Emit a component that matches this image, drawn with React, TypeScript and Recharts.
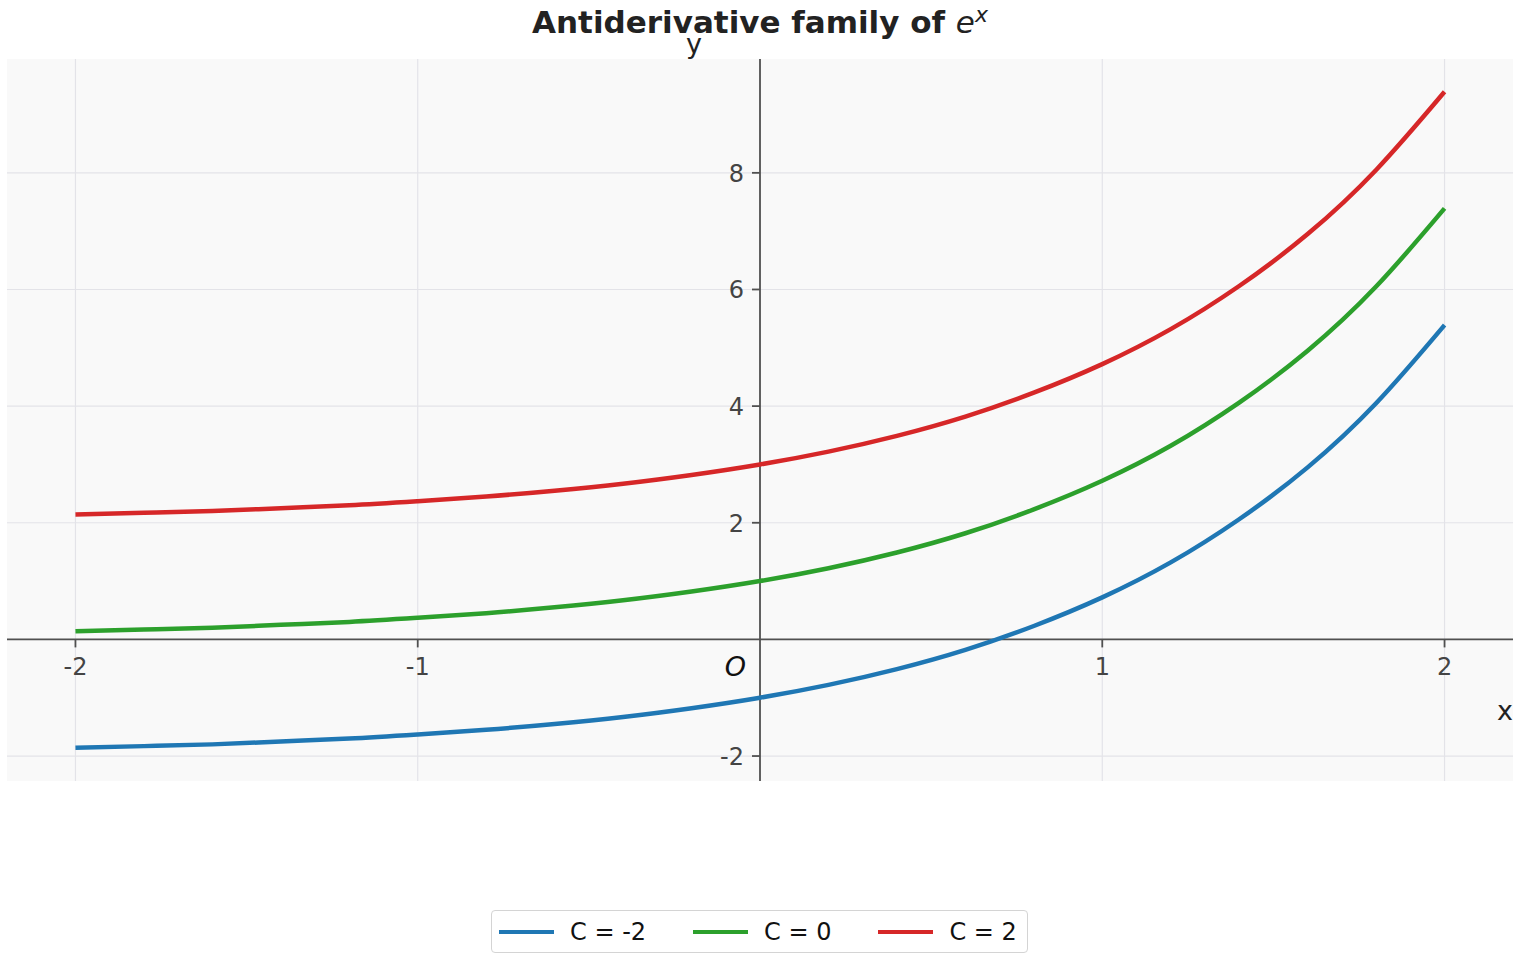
import { LineChart, Line, XAxis, YAxis, ReferenceLine, ReferenceDot, ReferenceArea } from "recharts"

// x positions and the three curves (y = e^x + C)
const xs = [-2, -1.8, -1.6, -1.4, -1.2, -1, -0.8, -0.6, -0.4, -0.2, 0, 0.2, 0.4, 0.6, 0.8, 1, 1.2, 1.4, 1.6, 1.8, 2]
const cMinus2 = [-1.86, -1.83, -1.8, -1.75, -1.7, -1.63, -1.55, -1.45, -1.33, -1.18, -1.0, -0.78, -0.51, -0.18, 0.23, 0.72, 1.32, 2.06, 2.95, 4.05, 5.39]
const c0 = [0.14, 0.17, 0.2, 0.25, 0.3, 0.37, 0.45, 0.55, 0.67, 0.82, 1.0, 1.22, 1.49, 1.82, 2.23, 2.72, 3.32, 4.06, 4.95, 6.05, 7.39]
const c2 = [2.14, 2.17, 2.2, 2.25, 2.3, 2.37, 2.45, 2.55, 2.67, 2.82, 3.0, 3.22, 3.49, 3.82, 4.23, 4.72, 5.32, 6.06, 6.95, 8.05, 9.39]

const xTicks = [-2, -1, 1, 2]
const yTicks = [-2, 2, 4, 6, 8]
const gridX = [-2, -1, 1, 2]
const gridY = [-2, 2, 4, 6, 8]

const xDomain: [number, number] = [-2.2, 2.2]
const yDomain: [number, number] = [-2.428, 9.952]

const series = [
  { key: "a", name: "C = -2", color: "#1f77b4" },
  { key: "b", name: "C = 0", color: "#2ca02c" },
  { key: "c", name: "C = 2", color: "#d62728" },
]

const data = xs.map((x, i) => ({ x, a: cMinus2[i], b: c0[i], c: c2[i] }))

const FONT = "'DejaVu Sans', sans-serif"
const SPINE = "#505050"
const TICK_TEXT = "#444444"

const xTick = (label: string) => (p: any) => (
  <g>
    <line x1={p.cx} y1={p.cy} x2={p.cx} y2={p.cy + 8} stroke={SPINE} strokeWidth={1.8} />
    <text x={p.cx} y={p.cy + 36} textAnchor="middle" fontSize={24} fill={TICK_TEXT} fontFamily={FONT}>
      {label}
    </text>
  </g>
)

const yTick = (label: string) => (p: any) => (
  <g>
    <line x1={p.cx} y1={p.cy} x2={p.cx - 8} y2={p.cy} stroke={SPINE} strokeWidth={1.8} />
    <text x={p.cx - 16} y={p.cy + 9} textAnchor="end" fontSize={24} fill={TICK_TEXT} fontFamily={FONT}>
      {label}
    </text>
  </g>
)

export default function App() {
  return (
    <div style={{ position: "absolute", left: 0, top: 0, width: 1520, height: 960, background: "#fff", fontFamily: FONT }}>
      <div
        style={{
          position: "absolute",
          top: 3,
          left: 0,
          width: 1520,
          textAlign: "center",
          fontSize: 31,
          fontWeight: "bold",
          color: "#222",
          lineHeight: "38px",
        }}
      >
        Antiderivative family of{" "}
        <span style={{ fontWeight: "normal", fontStyle: "italic" }}>
          e<sup style={{ fontSize: 22, verticalAlign: "super", lineHeight: 0 }}>x</sup>
        </span>
      </div>

      <LineChart width={1520} height={960} data={data} margin={{ top: 59, right: 7, bottom: 179, left: 7 }}>
        <XAxis type="number" dataKey="x" domain={xDomain} allowDataOverflow hide />
        <YAxis type="number" domain={yDomain} allowDataOverflow hide />
        <ReferenceArea x1={xDomain[0]} x2={xDomain[1]} y1={yDomain[0]} y2={yDomain[1]} fill="#f9f9f9" fillOpacity={1} stroke="none" />
        {gridX.map((t) => (
          <ReferenceLine key={"gx" + t} x={t} stroke="#e3e3e8" strokeWidth={1.2} />
        ))}
        {gridY.map((t) => (
          <ReferenceLine key={"gy" + t} y={t} stroke="#e3e3e8" strokeWidth={1.2} />
        ))}
        <ReferenceLine x={0} stroke={SPINE} strokeWidth={1.8} />
        <ReferenceLine y={0} stroke={SPINE} strokeWidth={1.8} />
        {series.map((s) => (
          <Line
            key={s.key}
            type="natural"
            dataKey={s.key}
            name={s.name}
            stroke={s.color}
            strokeWidth={4.5}
            dot={false}
            isAnimationActive={false}
          />
        ))}
        {xTicks.map((t) => (
          <ReferenceDot key={"xt" + t} x={t} y={0} r={0} shape={xTick(String(t))} />
        ))}
        {yTicks.map((t) => (
          <ReferenceDot key={"yt" + t} x={0} y={t} r={0} shape={yTick(String(t))} />
        ))}
        <ReferenceDot
          x={0}
          y={0}
          r={0}
          shape={(p: any) => (
            <text x={p.cx - 14} y={p.cy + 37} textAnchor="end" fontSize={27} fontStyle="italic" fill="#111" fontFamily={FONT}>
              O
            </text>
          )}
        />
        <ReferenceDot
          x={xDomain[1]}
          y={0}
          r={0}
          ifOverflow="visible"
          shape={(p: any) => (
            <text x={p.cx} y={p.cy + 81} textAnchor="end" fontSize={27} fill="#222" fontFamily={FONT}>
              x
            </text>
          )}
        />
        <ReferenceDot
          x={0}
          y={yDomain[1]}
          r={0}
          ifOverflow="visible"
          shape={(p: any) => (
            <text x={p.cx - 66} y={p.cy - 6} textAnchor="middle" fontSize={27} fill="#222" fontFamily={FONT}>
              y
            </text>
          )}
        />
      </LineChart>

      <div
        style={{
          position: "absolute",
          left: 491,
          top: 910,
          width: 535,
          height: 41,
          border: "1px solid #d4d4d4",
          borderRadius: 4,
          background: "rgba(255,255,255,0.8)",
          display: "flex",
          alignItems: "center",
          fontSize: 24,
          color: "#111",
        }}
      >
        {series.map((s, i) => (
          <div key={s.key} style={{ display: "flex", alignItems: "center", marginLeft: i === 0 ? 7 : 47 }}>
            <div style={{ width: 55, height: 4, background: s.color }} />
            <span style={{ marginLeft: 16 }}>{s.name}</span>
          </div>
        ))}
      </div>
    </div>
  )
}
